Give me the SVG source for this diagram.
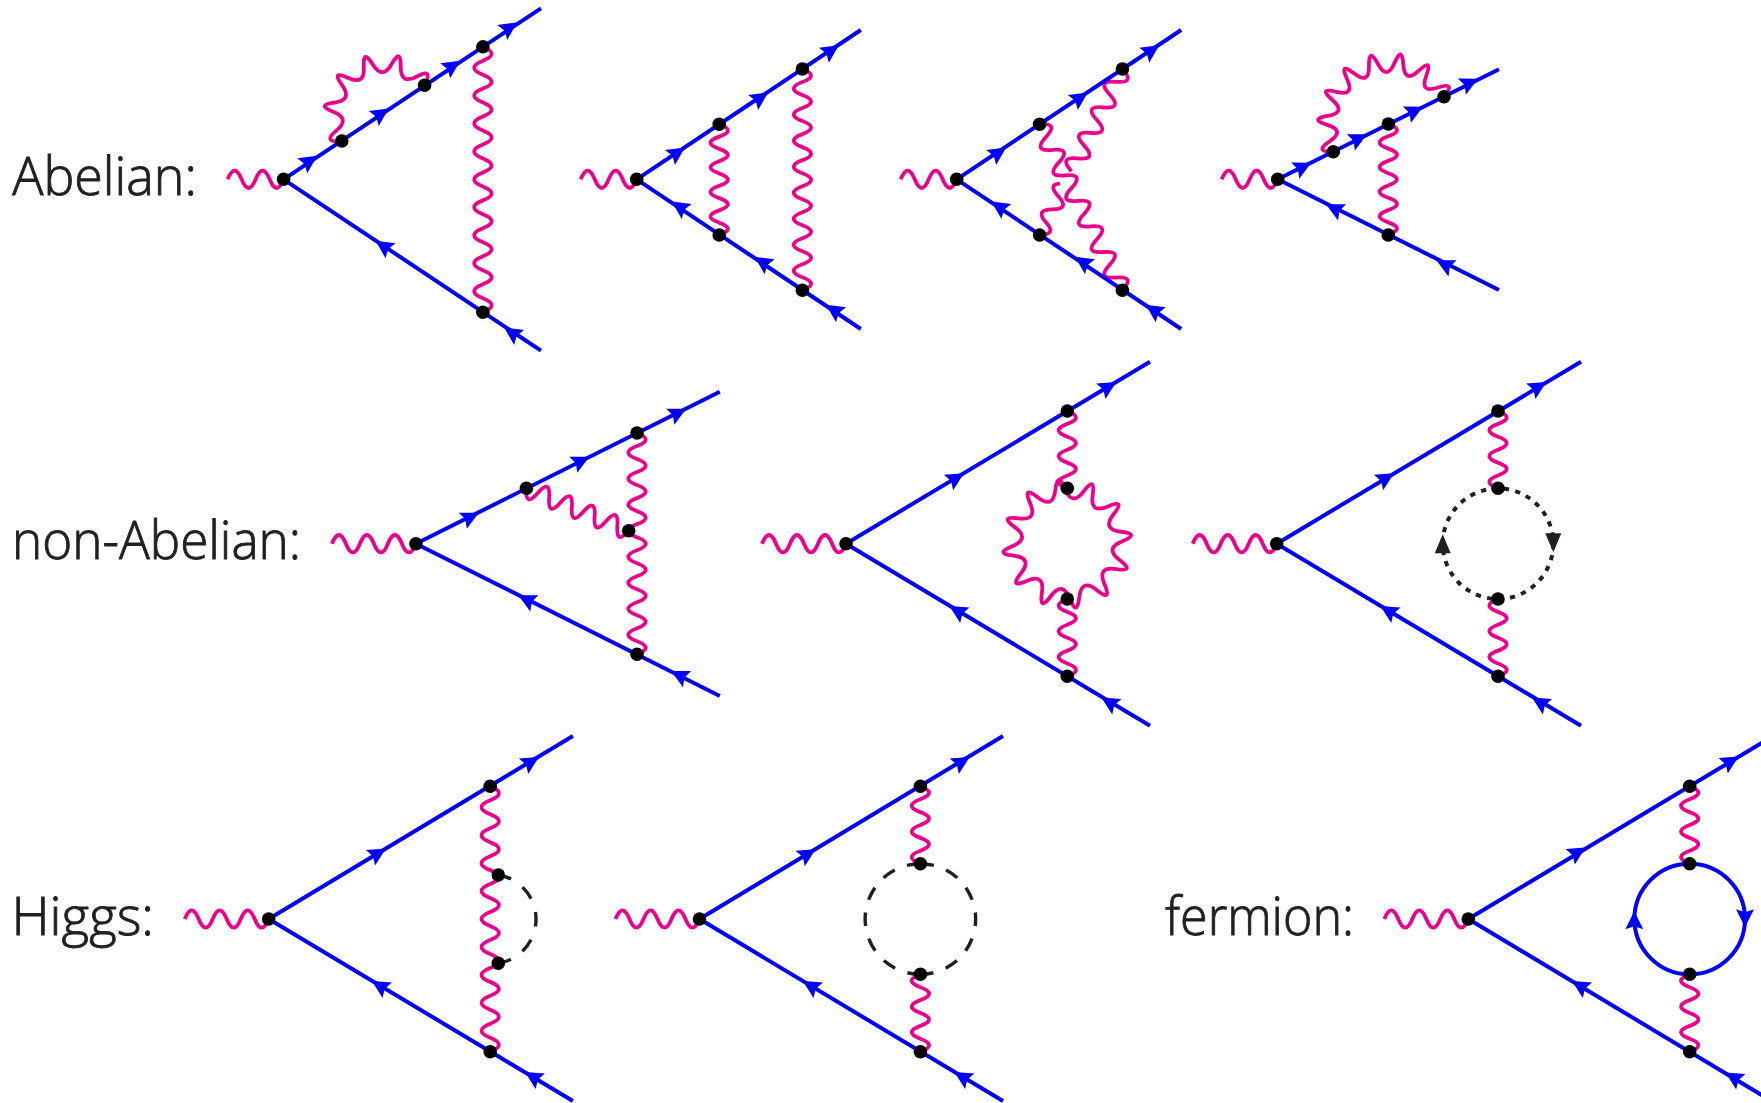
<svg xmlns="http://www.w3.org/2000/svg" width="1761" height="1103" viewBox="0 0 1761 1103">
<style>
.w{fill:none;stroke:#ec008c;stroke-width:3.8;stroke-linecap:butt;stroke-linejoin:round}
.f{fill:none;stroke:#0000ff;stroke-width:4}
.s{fill:none;stroke:#231f20;stroke-width:3.4}
.o{fill:none;stroke:#231f20;stroke-width:4;stroke-dasharray:5.2 6.37}
.dot{fill:#000}
.ah{fill:#0000ff}
.ak{fill:#231f20}
.t{font-family:"Open Sans","Liberation Sans",sans-serif;font-weight:300;font-size:53px;fill:#231f20;stroke:#231f20;stroke-width:.9px}
</style>
<defs>
<path id="ah" class="ah" d="M1.5 0L-16.5 -9L-13.5 0L-16.5 9Z"/>
<path id="ak" class="ak" d="M0 0L-19 -8L-19 8Z"/>
<path id="ext4" class="w" d="M-56 0q7 -17.4 14 0t14 0t14 0t14 0"/>
<path id="ext6" class="w" d="M-84 0q7 -17.4 14 0t14 0t14 0t14 0t14 0t14 0"/>
<path id="v19" class="w" d="M0 0q17.4 6.985 0 13.97t0 13.97t0 13.97t0 13.97t0 13.97t0 13.97t0 13.97t0 13.97t0 13.97t0 13.97t0 13.97t0 13.97t0 13.97t0 13.97t0 13.97t0 13.97t0 13.97t0 13.97t0 13.97"/>
<path id="v17" class="w" d="M0 0q17.4 6.51 0 13.02t0 13.02t0 13.02t0 13.02t0 13.02t0 13.02t0 13.02t0 13.02t0 13.02t0 13.02t0 13.02t0 13.02t0 13.02t0 13.02t0 13.02t0 13.02t0 13.02"/>
<path id="v9" class="w" d="M0 0q17.4 6.15 0 12.3t0 12.3t0 12.3t0 12.3t0 12.3t0 12.3t0 12.3t0 12.3t0 12.3"/>
<path id="v6a" class="w" d="M0 0q17.4 6.45 0 12.9t0 12.9t0 12.9t0 12.9t0 12.9t0 12.9"/>
<path id="v6b" class="w" d="M0 0q-17.4 6.45 0 12.9t0 12.9t0 12.9t0 12.9t0 12.9t0 12.9"/>
<path id="ploop" class="w" d="M-11.95 -53.8Q-9.7 -73.4 -2.45 -55.05 4.8 -36.7 16.55 -52.55 28.3 -68.4 25.4 -48.9 22.5 -29.4 40.6 -37.25 58.7 -45.1 46.45 -29.65 34.2 -14.2 53.8 -11.95 73.4 -9.7 55.05 -2.45 36.7 4.8 52.55 16.55 68.4 28.3 48.9 25.4 29.4 22.5 37.25 40.6 45.1 58.7 29.65 46.45 14.2 34.2 11.95 53.8 9.7 73.4 2.45 55.05 -4.8 36.7 -16.55 52.55 -28.3 68.4 -25.4 48.9 -22.5 29.4 -40.6 37.25 -58.7 45.1 -46.45 29.65 -34.2 14.2 -53.8 11.95 -73.4 9.7 -55.05 2.45 -36.7 -4.8 -52.55 -16.55 -68.4 -28.3 -48.9 -25.4 -29.4 -22.5 -37.25 -40.6 -45.1 -58.7 -29.65 -46.45 -14.2 -34.2 -11.95 -53.8Z"/>
</defs>
<rect width="1761" height="1103" fill="#fff"/>
<g id="labels">
<text class="t" x="12.3" y="195" textLength="184.5" lengthAdjust="spacingAndGlyphs">Abelian:</text>
<text class="t" x="12" y="559" textLength="289" lengthAdjust="spacingAndGlyphs">non-Abelian:</text>
<text class="t" x="11.5" y="935" textLength="142.5" lengthAdjust="spacingAndGlyphs">Higgs:</text>
<text class="t" x="1165" y="935" textLength="189" lengthAdjust="spacingAndGlyphs">fermion:</text>
</g>
<g id="connectors">
<!-- A1 -->
<use href="#ext4" x="283.6" y="179.3"/>
<use href="#v19" x="482.9" y="46.7"/>
<path class="w" transform="translate(383.2 113.2)" d="M-41.4 27.8Q-61.4 29.6 -46.9 17.45 -32.4 5.3 -50 -1.5 -67.6 -8.3 -48.9 -10.65 -30.2 -13 -41.3 -28.3 -52.4 -43.6 -35.35 -35.45 -18.3 -27.3 -19.4 -46.15 -20.5 -65 -10.6 -48.9 -.7 -32.8 8.55 -49.3 17.8 -65.8 17.5 -46.9 17.2 -28 33.9 -36.85 50.6 -45.7 41.4 -27.85"/>
<path class="f" d="M283.6 179.3L541 8.3M283.6 179.3L541 350.7"/>
<use href="#ah" transform="translate(316 156.7) rotate(-33.6)"/>
<use href="#ah" transform="translate(387.5 109.3) rotate(-33.6)"/>
<use href="#ah" transform="translate(459 61.7) rotate(-33.6)"/>
<use href="#ah" transform="translate(516 23.3) rotate(-33.6)"/>
<use href="#ah" transform="translate(376.8 241.7) rotate(213.6)"/>
<use href="#ah" transform="translate(505.4 328.3) rotate(213.6)"/>
<!-- A2 -->
<use href="#ext4" x="636.7" y="179.3"/>
<use href="#v9" x="719.2" y="124.3"/>
<use href="#v17" x="802.4" y="69"/>
<path class="f" d="M636.7 179.3L860.8 30M636.7 179.3L860.8 329"/>
<use href="#ah" transform="translate(683.7 148.3) rotate(-33.7)"/>
<use href="#ah" transform="translate(766.9 93.3) rotate(-33.7)"/>
<use href="#ah" transform="translate(837.6 46) rotate(-33.7)"/>
<use href="#ah" transform="translate(673 202.3) rotate(213.7)"/>
<use href="#ah" transform="translate(755.9 257.7) rotate(213.7)"/>
<use href="#ah" transform="translate(827.3 305.7) rotate(213.7)"/>
<!-- A3 -->
<use href="#ext4" x="956.7" y="179.3"/>
<path class="w" d="M1122.4 290.3q13.4 -14.6 -6.37 -12.77t-6.37 -12.77t-6.37 -12.77t-6.37 -12.77t-6.37 -12.77t-6.37 -12.77t-6.37 -12.77t-6.37 -12.77t-6.37 -12.77t-6.37 -12.77t-6.37 -12.77t-6.37 -12.77t-6.37 -12.77"/>
<path class="w" d="M1122.4 69q13.4 14.6 -6.37 12.77t-6.37 12.77t-6.37 12.77t-6.37 12.77t-6.37 12.77t-6.37 12.77t-6.37 12.77t-6.37 12.77"/>
<path class="w" d="M1059.9 183.7Q1047.3 184.25 1058.7 196.7t-6.37 12.77t-6.37 12.77t-6.37 12.77"/>
<path class="f" d="M956.7 179.3L1181.2 30M956.7 179.3L1181.2 329"/>
<use href="#ah" transform="translate(1004.9 148.3) rotate(-33.7)"/>
<use href="#ah" transform="translate(1086.5 93.3) rotate(-33.7)"/>
<use href="#ah" transform="translate(1158 46) rotate(-33.7)"/>
<use href="#ah" transform="translate(992.7 202.3) rotate(213.7)"/>
<use href="#ah" transform="translate(1076.3 257.7) rotate(213.7)"/>
<use href="#ah" transform="translate(1147 305.7) rotate(213.7)"/>
<!-- A4 -->
<use href="#ext4" x="1277.7" y="179.3"/>
<use href="#v9" x="1388.3" y="124"/>
<path class="w" transform="translate(1388.65 124.2)" d="M-55.35 27.5Q-75.3 28 -59.05 17.15 -42.8 6.3 -61.45 .65 -80.1 -5 -60.9 -8.3 -41.7 -11.6 -56.45 -24.4 -71.2 -37.2 -52.3 -32.4 -33.4 -27.6 -41.65 -45.25 -49.9 -62.9 -34.6 -50.85 -19.3 -38.8 -19.65 -58.3 -20 -77.8 -10.9 -60.55 -1.8 -43.3 5.8 -61.25 13.4 -79.2 14.65 -59.75 15.9 -40.3 30.15 -53.6 44.4 -66.9 37.65 -48.6 30.9 -30.3 49.35 -36.65 67.8 -43 55.35 -27.5"/>
<path class="f" d="M1277.7 179.3L1499 69.3M1277.7 179.3L1499 290"/>
<use href="#ah" transform="translate(1310 163.3) rotate(-26.4)"/>
<use href="#ah" transform="translate(1365.7 135) rotate(-26.4)"/>
<use href="#ah" transform="translate(1421.7 107.3) rotate(-26.4)"/>
<use href="#ah" transform="translate(1476.7 79.3) rotate(-26.4)"/>
<use href="#ah" transform="translate(1327.3 205) rotate(206.4)"/>
<use href="#ah" transform="translate(1437.7 261) rotate(206.4)"/>
<!-- N1 -->
<use href="#ext6" x="415.9" y="543.7"/>
<use href="#v17" x="637" y="433"/>
<path class="w" d="M526.4 488.3q-1.4 19.45 11.37 4.71t11.37 4.71t11.37 4.71t11.37 4.71t11.37 4.71t11.37 4.71t11.37 4.71t11.37 4.71t11.37 4.71"/>
<path class="f" d="M415.9 543.7L719.8 391.7M415.9 543.7L719.8 696"/>
<use href="#ah" transform="translate(477.5 513.3) rotate(-26.6)"/>
<use href="#ah" transform="translate(588 457.3) rotate(-26.6)"/>
<use href="#ah" transform="translate(685 409.3) rotate(-26.6)"/>
<use href="#ah" transform="translate(519.6 596) rotate(206.6)"/>
<use href="#ah" transform="translate(672.3 671.7) rotate(206.6)"/>
<!-- N2 -->
<use href="#ext6" x="846" y="543.7"/>
<use href="#v6a" x="1067.3" y="411"/>
<use href="#v6b" x="1067.3" y="599"/>
<use href="#ploop" x="1067.3" y="543.7"/>
<path class="f" d="M846 543.7L1150 361.7M846 543.7L1150 725.7"/>
<use href="#ah" transform="translate(962.7 474) rotate(-30.9)"/>
<use href="#ah" transform="translate(1115 382.7) rotate(-30.9)"/>
<use href="#ah" transform="translate(950.7 606.7) rotate(210.9)"/>
<use href="#ah" transform="translate(1102.7 698.3) rotate(210.9)"/>
<!-- N3 -->
<use href="#ext6" x="1276.7" y="543.7"/>
<use href="#v6a" x="1498" y="411"/>
<use href="#v6b" x="1498" y="599"/>
<circle class="o" cx="1498" cy="543.7" r="55.3"/>
<use href="#ak" transform="translate(1553.3 552.3) rotate(90)"/>
<use href="#ak" transform="translate(1442.7 534.3) rotate(-90)"/>
<path class="f" d="M1276.7 543.7L1581 361.7M1276.7 543.7L1581 725.7"/>
<use href="#ah" transform="translate(1392.7 474) rotate(-30.9)"/>
<use href="#ah" transform="translate(1545 382.7) rotate(-30.9)"/>
<use href="#ah" transform="translate(1381.7 606.7) rotate(210.9)"/>
<use href="#ah" transform="translate(1533.3 698.3) rotate(210.9)"/>
<!-- H1 -->
<use href="#ext6" x="268.7" y="919"/>
<use href="#v19" x="490.2" y="786.3"/>
<path class="s" stroke-dasharray="14.5 14" stroke-dashoffset="1.05" d="M498.3 875A44.7 44.7 0 0 1 498.3 963.3"/>
<path class="f" d="M268.7 919L572.9 736M268.7 919L572.9 1101"/>
<use href="#ah" transform="translate(384.6 849.3) rotate(-31)"/>
<use href="#ah" transform="translate(537.7 757.7) rotate(-31)"/>
<use href="#ah" transform="translate(373.1 981.7) rotate(211)"/>
<use href="#ah" transform="translate(526.2 1072.7) rotate(211)"/>
<!-- H2 -->
<use href="#ext6" x="699.5" y="919"/>
<use href="#v6a" x="920.4" y="786.3"/>
<use href="#v6b" x="920.4" y="974.3"/>
<path class="s" stroke-dasharray="13.6 13.1" d="M920.4 863.7A55.3 55.3 0 0 1 920.4 974.3M920.4 863.7A55.3 55.3 0 0 0 920.4 974.3"/>
<path class="f" d="M699.5 919L1003 736M699.5 919L1003 1101"/>
<use href="#ah" transform="translate(814.3 850) rotate(-31)"/>
<use href="#ah" transform="translate(968.4 757.7) rotate(-31)"/>
<use href="#ah" transform="translate(804.1 981.7) rotate(211)"/>
<use href="#ah" transform="translate(955.6 1072.7) rotate(211)"/>
<!-- F -->
<use href="#ext6" x="1468.3" y="919"/>
<use href="#v6a" x="1689.7" y="786.3"/>
<use href="#v6b" x="1689.7" y="974.3"/>
<circle class="f" cx="1689.7" cy="919" r="55.3"/>
<use href="#ah" transform="translate(1745 925.7) rotate(90)"/>
<use href="#ah" transform="translate(1634.3 912.7) rotate(-90)"/>
<path class="f" d="M1468.3 919L1772 736.8M1468.3 919L1772 1101.2"/>
<use href="#ah" transform="translate(1584.3 848.3) rotate(-31)"/>
<use href="#ah" transform="translate(1737.3 757.3) rotate(-31)"/>
<use href="#ah" transform="translate(1573.3 981.7) rotate(211)"/>
<use href="#ah" transform="translate(1726.7 1073.3) rotate(211)"/>
</g>
<g id="a1-v0"><circle class="dot" cx="283.6" cy="179.3" r="6.8"/></g>
<g id="a1-v1"><circle class="dot" cx="341.8" cy="141" r="6.8"/></g>
<g id="a1-v2"><circle class="dot" cx="424.6" cy="85.3" r="6.8"/></g>
<g id="a1-v3"><circle class="dot" cx="482.9" cy="46.7" r="6.8"/></g>
<g id="a1-v4"><circle class="dot" cx="482.9" cy="312.3" r="6.8"/></g>
<g id="a2-v0"><circle class="dot" cx="636.7" cy="179.3" r="6.8"/></g>
<g id="a2-v1"><circle class="dot" cx="719.2" cy="124.3" r="6.8"/></g>
<g id="a2-v2"><circle class="dot" cx="719.2" cy="235" r="6.8"/></g>
<g id="a2-v3"><circle class="dot" cx="802.4" cy="69" r="6.8"/></g>
<g id="a2-v4"><circle class="dot" cx="802.4" cy="290.3" r="6.8"/></g>
<g id="a3-v0"><circle class="dot" cx="956.7" cy="179.3" r="6.8"/></g>
<g id="a3-v1"><circle class="dot" cx="1039.6" cy="124.3" r="6.8"/></g>
<g id="a3-v2"><circle class="dot" cx="1039.6" cy="235" r="6.8"/></g>
<g id="a3-v3"><circle class="dot" cx="1122.4" cy="69" r="6.8"/></g>
<g id="a3-v4"><circle class="dot" cx="1122.4" cy="290.3" r="6.8"/></g>
<g id="a4-v0"><circle class="dot" cx="1277.7" cy="179.3" r="6.8"/></g>
<g id="a4-v1"><circle class="dot" cx="1333.3" cy="151.7" r="6.8"/></g>
<g id="a4-v2"><circle class="dot" cx="1388.3" cy="124" r="6.8"/></g>
<g id="a4-v3"><circle class="dot" cx="1444" cy="96.7" r="6.8"/></g>
<g id="a4-v4"><circle class="dot" cx="1388.3" cy="235" r="6.8"/></g>
<g id="n1-v0"><circle class="dot" cx="415.9" cy="543.7" r="6.8"/></g>
<g id="n1-v1"><circle class="dot" cx="526.4" cy="488.3" r="6.8"/></g>
<g id="n1-v2"><circle class="dot" cx="637" cy="433" r="6.8"/></g>
<g id="n1-v3"><circle class="dot" cx="628.7" cy="530.7" r="6.8"/></g>
<g id="n1-v4"><circle class="dot" cx="637" cy="654.3" r="6.8"/></g>
<g id="n2-v0"><circle class="dot" cx="846" cy="543.7" r="6.8"/></g>
<g id="n2-v1"><circle class="dot" cx="1067.3" cy="411" r="6.8"/></g>
<g id="n2-v2"><circle class="dot" cx="1067.3" cy="488.3" r="6.8"/></g>
<g id="n2-v3"><circle class="dot" cx="1067.3" cy="599" r="6.8"/></g>
<g id="n2-v4"><circle class="dot" cx="1067.3" cy="676.3" r="6.8"/></g>
<g id="n3-v0"><circle class="dot" cx="1276.7" cy="543.7" r="6.8"/></g>
<g id="n3-v1"><circle class="dot" cx="1498" cy="411" r="6.8"/></g>
<g id="n3-v2"><circle class="dot" cx="1498" cy="488.3" r="6.8"/></g>
<g id="n3-v3"><circle class="dot" cx="1498" cy="599" r="6.8"/></g>
<g id="n3-v4"><circle class="dot" cx="1498" cy="676.3" r="6.8"/></g>
<g id="h1-v0"><circle class="dot" cx="268.7" cy="919" r="6.8"/></g>
<g id="h1-v1"><circle class="dot" cx="490.2" cy="786.3" r="6.8"/></g>
<g id="h1-v2"><circle class="dot" cx="498.3" cy="875" r="6.8"/></g>
<g id="h1-v3"><circle class="dot" cx="498.3" cy="963.3" r="6.8"/></g>
<g id="h1-v4"><circle class="dot" cx="490.2" cy="1051.7" r="6.8"/></g>
<g id="h2-v0"><circle class="dot" cx="699.5" cy="919" r="6.8"/></g>
<g id="h2-v1"><circle class="dot" cx="920.4" cy="786.3" r="6.8"/></g>
<g id="h2-v2"><circle class="dot" cx="920.4" cy="863.7" r="6.8"/></g>
<g id="h2-v3"><circle class="dot" cx="920.4" cy="974.3" r="6.8"/></g>
<g id="h2-v4"><circle class="dot" cx="920.4" cy="1051.7" r="6.8"/></g>
<g id="f-v0"><circle class="dot" cx="1468.3" cy="919" r="6.8"/></g>
<g id="f-v1"><circle class="dot" cx="1689.7" cy="786.3" r="6.8"/></g>
<g id="f-v2"><circle class="dot" cx="1689.7" cy="863.7" r="6.8"/></g>
<g id="f-v3"><circle class="dot" cx="1689.7" cy="974.3" r="6.8"/></g>
<g id="f-v4"><circle class="dot" cx="1689.7" cy="1051.7" r="6.8"/></g>
</svg>
